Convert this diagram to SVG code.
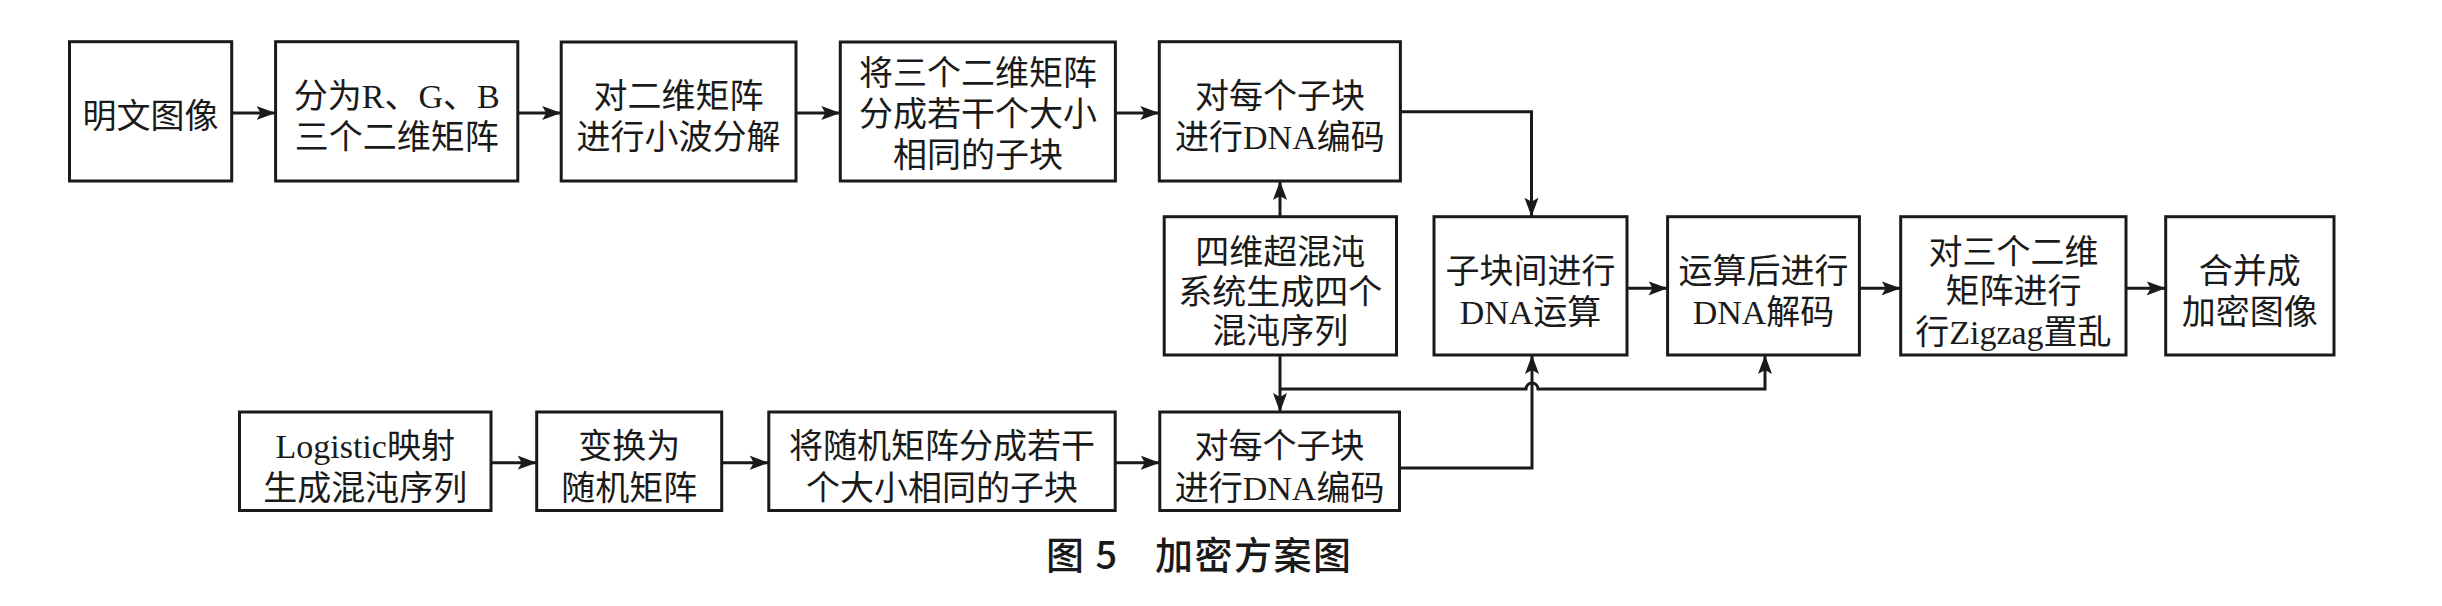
<svg xmlns="http://www.w3.org/2000/svg" width="2442" height="606" viewBox="0 0 2442 606">
<defs>
<style>
.box{fill:#fff;stroke:#1a1a1a;stroke-width:3}
.t{font-family:"Liberation Serif","Noto Sans CJK SC",serif;font-size:34px;fill:#1a1a1a;text-anchor:middle}
.c{fill:none;stroke:#1a1a1a;stroke-width:3}
.cap{font-family:"Noto Sans CJK SC",sans-serif;font-size:38px;font-weight:500;fill:#1a1a1a;letter-spacing:1.5px}
</style>
<marker id="ah" markerUnits="userSpaceOnUse" markerWidth="20" markerHeight="16" viewBox="0 0 20 16" refX="19" refY="8" orient="auto">
<path d="M0,1 L19,8 L0,15 L4,8 z" fill="#1a1a1a"/>
</marker>
</defs>
<rect width="2442" height="606" fill="#fff"/>

<g id="connectors">
<path class="c" d="M231.7,113 H275.6" marker-end="url(#ah)"/>
<path class="c" d="M517.8,113 H561.2" marker-end="url(#ah)"/>
<path class="c" d="M796,113 H840.3" marker-end="url(#ah)"/>
<path class="c" d="M1115.4,113 H1159.3" marker-end="url(#ah)"/>
<path class="c" d="M1400.4,111.7 H1531.5 V216.7" marker-end="url(#ah)"/>
<path class="c" d="M1280,216.7 V181" marker-end="url(#ah)"/>
<path class="c" d="M1280,355 V412" marker-end="url(#ah)"/>
<path class="c" d="M1280,389 H1526 A6,6 0 0 1 1538,389 H1765 V355" marker-end="url(#ah)"/>
<path class="c" d="M1399.5,468 H1532 V355" marker-end="url(#ah)"/>
<path class="c" d="M1627,288.3 H1667.6" marker-end="url(#ah)"/>
<path class="c" d="M1859.4,288.3 H1900.7" marker-end="url(#ah)"/>
<path class="c" d="M2126,288.3 H2165.7" marker-end="url(#ah)"/>
<path class="c" d="M491,462.7 H536.7" marker-end="url(#ah)"/>
<path class="c" d="M721.7,462.7 H768.8" marker-end="url(#ah)"/>
<path class="c" d="M1115.2,462.7 H1159.8" marker-end="url(#ah)"/>
</g>

<g id="n1"><rect class="box" x="69.5" y="41.7" width="162.2" height="139.3"/>
<text class="t" x="150.6" y="128">明文图像</text></g>

<g id="n2"><rect class="box" x="275.6" y="41.7" width="242.2" height="139.3"/>
<text class="t" x="396.7" y="108">分为R、G、B</text>
<text class="t" x="396.7" y="149">三个二维矩阵</text></g>

<g id="n3"><rect class="box" x="561.2" y="42" width="234.8" height="139"/>
<text class="t" x="678.6" y="108">对二维矩阵</text>
<text class="t" x="678.6" y="149">进行小波分解</text></g>

<g id="n4"><rect class="box" x="840.3" y="42" width="275.1" height="139"/>
<text class="t" x="977.9" y="85">将三个二维矩阵</text>
<text class="t" x="977.9" y="126">分成若干个大小</text>
<text class="t" x="977.9" y="167">相同的子块</text></g>

<g id="n5"><rect class="box" x="1159.3" y="41.7" width="241.1" height="139.3"/>
<text class="t" x="1279.9" y="108">对每个子块</text>
<text class="t" x="1279.9" y="149">进行DNA编码</text></g>

<g id="n6"><rect class="box" x="1164.2" y="216.7" width="232.3" height="138.3"/>
<text class="t" x="1280.3" y="264">四维超混沌</text>
<text class="t" x="1280.3" y="303.5">系统生成四个</text>
<text class="t" x="1280.3" y="343">混沌序列</text></g>

<g id="n7"><rect class="box" x="1434" y="216.7" width="193" height="138.3"/>
<text class="t" x="1530.5" y="283">子块间进行</text>
<text class="t" x="1530.5" y="324">DNA运算</text></g>

<g id="n8"><rect class="box" x="1667.6" y="216.7" width="191.8" height="138.3"/>
<text class="t" x="1763.5" y="283">运算后进行</text>
<text class="t" x="1763.5" y="324">DNA解码</text></g>

<g id="n9"><rect class="box" x="1900.7" y="216.7" width="225.3" height="138.3"/>
<text class="t" x="2013.4" y="264">对三个二维</text>
<text class="t" x="2013.4" y="303">矩阵进行</text>
<text class="t" x="2013.4" y="344">行Zigzag置乱</text></g>

<g id="n10"><rect class="box" x="2165.7" y="216.7" width="168.3" height="138.3"/>
<text class="t" x="2249.8" y="283">合并成</text>
<text class="t" x="2249.8" y="324">加密图像</text></g>

<g id="n11"><rect class="box" x="239.5" y="412" width="251.5" height="98.5"/>
<text class="t" x="365.2" y="458">Logistic映射</text>
<text class="t" x="365.2" y="499.5">生成混沌序列</text></g>

<g id="n12"><rect class="box" x="536.7" y="412" width="185" height="98.5"/>
<text class="t" x="629.2" y="458">变换为</text>
<text class="t" x="629.2" y="499.5">随机矩阵</text></g>

<g id="n13"><rect class="box" x="768.8" y="412" width="346.4" height="98.5"/>
<text class="t" x="942" y="458">将随机矩阵分成若干</text>
<text class="t" x="942" y="499.5">个大小相同的子块</text></g>

<g id="n14"><rect class="box" x="1159.8" y="412" width="239.7" height="98.5"/>
<text class="t" x="1279.6" y="458">对每个子块</text>
<text class="t" x="1279.6" y="499.5">进行DNA编码</text></g>

<g id="caption">
<text class="cap" x="1046" y="569">图 5<tspan x="1155">加密方案图</tspan></text>
</g>
</svg>
